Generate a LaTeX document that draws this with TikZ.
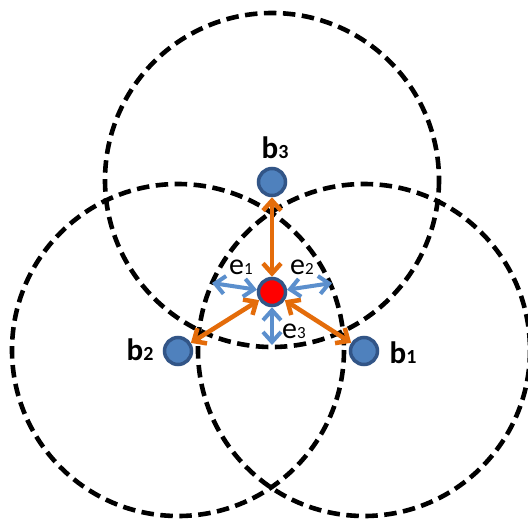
\documentclass[tikz,border=0pt]{standalone}
\usepackage{fontspec}
\setmainfont{Carlito}
\usetikzlibrary{arrows.meta}
\definecolor{nodeblue}{RGB}{79,129,189}
\definecolor{nodeedge}{RGB}{50,85,135}
\definecolor{arrowblue}{RGB}{91,143,205}
\definecolor{arroworange}{RGB}{228,108,10}
\newcommand{\bname}[1]{{\bfseries\fontsize{31}{31}\selectfont b\fontsize{20}{20}\selectfont #1}}
\newcommand{\ename}[1]{{\fontsize{30}{30}\selectfont e\fontsize{17}{17}\selectfont #1}}
\tikzset{
  rangecircle/.style={draw=black, line width=4.6pt, dash pattern=on 12.5pt off 6.5pt},
  anchornode/.style={circle, fill=nodeblue, draw=nodeedge, line width=3.5pt, minimum size=27pt, inner sep=0pt},
  targetnode/.style={circle, fill=red, draw=nodeedge, line width=3.5pt, minimum size=27pt, inner sep=0pt},
  oarrow/.style={draw=arroworange, line width=4.5pt, {Straight Barb[length=10pt,width=18pt]}-{Straight Barb[length=10pt,width=18pt]}},
  barrow/.style={draw=arrowblue, line width=4pt, {Straight Barb[length=10pt,width=18pt]}-{Straight Barb[length=10pt,width=18pt]}},
  labeltext/.style={inner sep=0pt, text=black}
}
\begin{document}
\begin{tikzpicture}[x=1pt,y=-1pt]
\useasboundingbox (0,0) rectangle (528,523);
\clip (0,0) rectangle (528,523);
\fill[white] (0,0) rectangle (528,523);
% anchor coordinates
\coordinate (c3) at (272,180);
\coordinate (c2) at (178,350);
\coordinate (c1) at (364,350);
% range circles
\draw[rangecircle] (c3) circle[radius=167];
\draw[rangecircle] (c2) circle[radius=166];
\draw[rangecircle] (c1) circle[radius=166];
% nodes
\node[anchornode] (b3) at (272,182) {};
\node[anchornode] (b2) at (178,351) {};
\node[anchornode] (b1) at (364,351) {};
\node[targetnode] (r) at (272,292) {};
% orange arrows
\draw[oarrow] (r) -- (b3);
\draw[oarrow] (r) -- (b2);
\draw[oarrow] (r) -- (b1);
% blue error arrows
\coordinate (e1a) at (212,283);
\coordinate (e2a) at (332,283);
\coordinate (e3a) at (272,345);
\draw[barrow] (e1a) -- (r);
\draw[barrow] (e2a) -- (r);
\draw[barrow] (e3a) -- (r);
% labels
\node[labeltext] (lb3) at (275,148) {\bname{3}};
\node[labeltext] (lb2) at (140,350) {\bname{2}};
\node[labeltext] (lb1) at (403,353) {\bname{1}};
\node[labeltext] (le1) at (241,267) {\ename{1}};
\node[labeltext] (le2) at (302,267) {\ename{2}};
\node[labeltext] (le3) at (294,331) {\ename{3}};
\end{tikzpicture}
\end{document}
